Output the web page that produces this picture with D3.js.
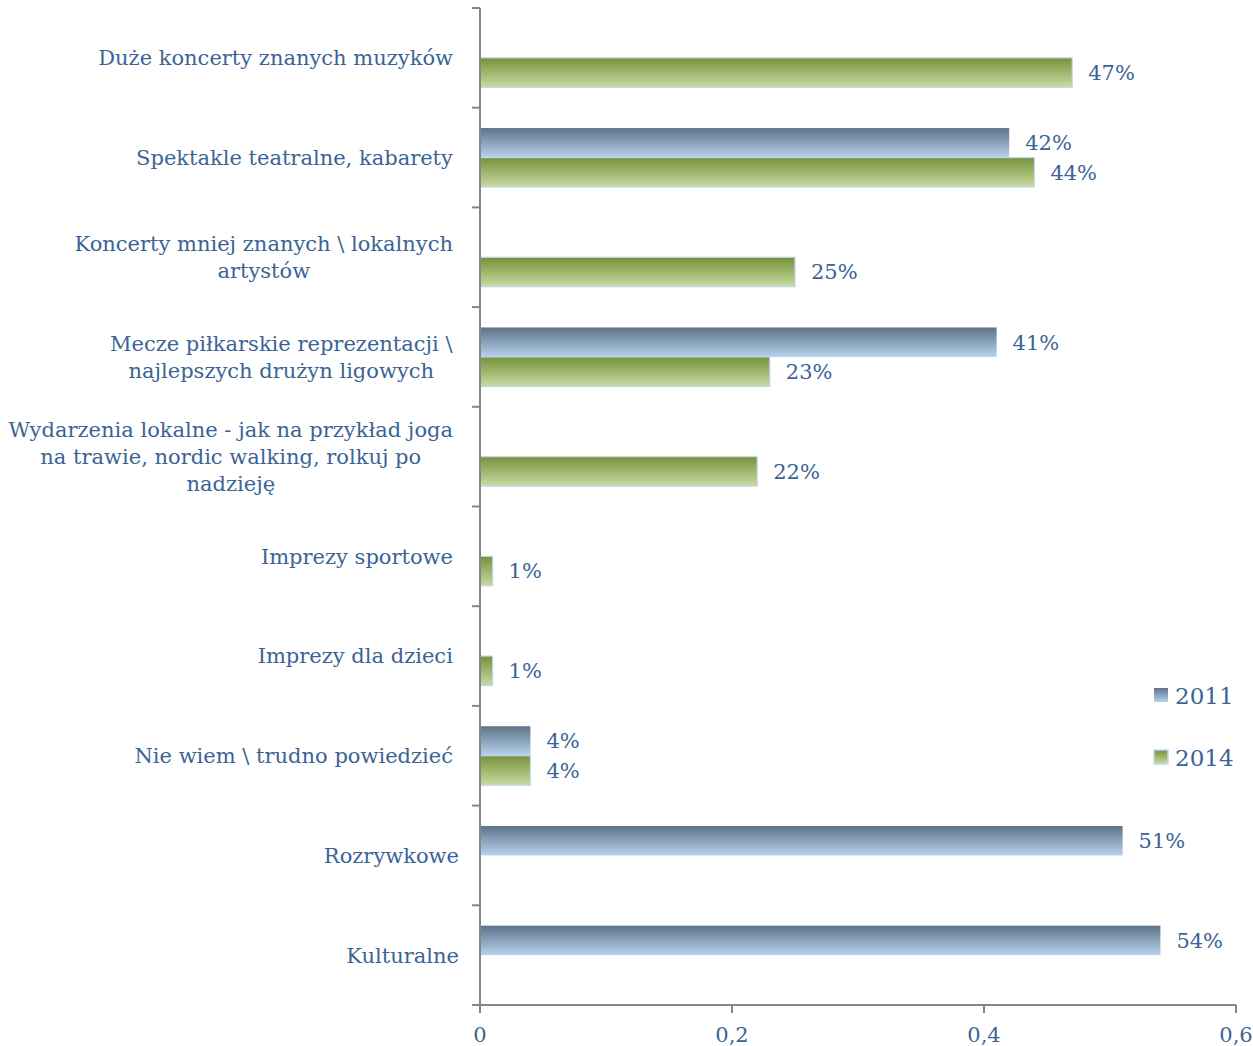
<!DOCTYPE html>
<html><head><meta charset="utf-8">
<script src="https://cdn.jsdelivr.net/npm/d3@7"></script>
<style>body{margin:0;background:#fff}svg{display:block}</style>
</head><body>
<script>
const categories = [
  ["Duże koncerty znanych muzyków"],
  ["Spektakle teatralne, kabarety"],
  ["Koncerty mniej znanych \\ lokalnych", "artystów"],
  ["Mecze piłkarskie reprezentacji \\", "najlepszych drużyn ligowych"],
  ["Wydarzenia lokalne - jak na przykład joga", "na trawie, nordic walking, rolkuj po", "nadzieję"],
  ["Imprezy sportowe"],
  ["Imprezy dla dzieci"],
  ["Nie wiem \\ trudno powiedzieć"],
  ["Rozrywkowe"],
  ["Kulturalne"]
];
const series = ["2011", "2014"];
const values2011 = [null, 0.42, null, 0.41, null, null, null, 0.04, 0.51, 0.54];
const values2014 = [0.47, 0.44, 0.25, 0.23, 0.22, 0.01, 0.01, 0.04, null, null];
const xTicks = [0, 0.2, 0.4, 0.6];

const W = 1253, H = 1046;
const margin = {left: 480, right: 17, top: 8, bottom: 41};
const textColor = "#3b6496";
const font = "'DejaVu Serif', 'Liberation Serif', serif";

const svg = d3.select("body").append("svg").attr("width", W).attr("height", H);
const defs = svg.append("defs");
function grad(id, top, bottom) {
  const g = defs.append("linearGradient").attr("id", id).attr("x1", 0).attr("y1", 0).attr("x2", 0).attr("y2", 1);
  g.append("stop").attr("offset", "0%").attr("stop-color", top);
  g.append("stop").attr("offset", "100%").attr("stop-color", bottom);
}
grad("g2011", "#5f7288", "#b6d3ef");
grad("g2014", "#76923a", "#c9dba3");

const x = d3.scaleLinear().domain([0, 0.6]).range([margin.left, W - margin.right]);
const y = d3.scaleBand().domain(d3.range(categories.length)).range([margin.top, H - margin.bottom]);
const yInner = d3.scaleBand().domain(series).range([0, y.bandwidth()]).paddingOuter(0.69).paddingInner(0);

const locale = d3.formatLocale({decimal: ",", thousands: " ", grouping: [3], currency: ["", " zł"]});
const fmt = locale.format("~g");
const pct = d3.format(".0%");

// bars
const data = [];
categories.forEach((c, i) => {
  if (values2011[i] != null) data.push({i, s: "2011", v: values2011[i]});
  if (values2014[i] != null) data.push({i, s: "2014", v: values2014[i]});
});
const g = svg.append("g");
g.selectAll("rect.bar").data(data).join("rect")
  .attr("class", "bar")
  .attr("x", x(0))
  .attr("y", d => y(d.i) + yInner(d.s))
  .attr("width", d => x(d.v) - x(0))
  .attr("height", yInner.bandwidth())
  .attr("fill", d => d.s === "2011" ? "url(#g2011)" : "url(#g2014)")
  .attr("stroke", d => d.s === "2014" ? "#c3d6ee" : "none")
  .attr("stroke-width", 1.2);

g.selectAll("text.val").data(data).join("text")
  .attr("class", "val")
  .attr("x", d => x(d.v) + 16)
  .attr("y", d => y(d.i) + yInner(d.s) + yInner.bandwidth() / 2)
  .attr("dy", "0.35em")
  .attr("fill", textColor)
  .style("font-family", font).style("font-size", "21px")
  .text(d => pct(d.v));

// y axis
const yAxis = svg.append("g").attr("transform", `translate(${x(0)},0)`);
yAxis.append("line").attr("x1", 0).attr("x2", 0).attr("y1", margin.top).attr("y2", H - margin.bottom)
  .attr("stroke", "#868686").attr("stroke-width", 2);
const yTickPos = d3.range(categories.length + 1).map(i => i < categories.length ? y(i) : y(categories.length - 1) + y.bandwidth());
yAxis.selectAll("line.t").data(yTickPos).join("line").attr("class", "t")
  .attr("x1", -8).attr("x2", 0).attr("y1", d => d).attr("y2", d => d)
  .attr("stroke", "#868686").attr("stroke-width", 2);

// category labels
const lineH = 27;
const labels = svg.append("g");
categories.forEach((lines, i) => {
  const cy = y(i) + y.bandwidth() / 2;
  const t = labels.append("text")
    .attr("text-anchor", "middle")
    .attr("fill", textColor)
    .style("font-family", font).style("font-size", "21px");
  lines.forEach((ln, k) => {
    t.append("tspan").attr("x", 0).attr("y", cy + (k - (lines.length - 1) / 2) * lineH).attr("dy", "0.35em").text(ln);
  });
  const bb = t.node().getBBox();
  const rightEdge = i >= 8 ? x(0) - 21 : x(0) - 27;
  t.attr("transform", `translate(${rightEdge - bb.width / 2},0)`);
});

// x axis
const xAxisG = svg.append("g").attr("transform", `translate(0,${H - margin.bottom})`);
xAxisG.append("line").attr("x1", x(0) - 8).attr("x2", x(0.6)).attr("stroke", "#868686").attr("stroke-width", 2);
xAxisG.selectAll("line.t").data(xTicks).join("line").attr("class", "t")
  .attr("x1", d => x(d)).attr("x2", d => x(d)).attr("y1", 0).attr("y2", 8)
  .attr("stroke", "#868686").attr("stroke-width", 2);
xAxisG.selectAll("text").data(xTicks).join("text")
  .attr("x", d => x(d)).attr("y", 37)
  .attr("text-anchor", "middle").attr("fill", textColor)
  .style("font-family", font).style("font-size", "21px")
  .text(d => fmt(d));

// legend
const legend = svg.append("g").attr("transform", "translate(1154,688)");
series.forEach((s, k) => {
  const lg = legend.append("g").attr("transform", `translate(0,${k * 62})`);
  lg.append("rect").attr("width", 14).attr("height", 14)
    .attr("fill", `url(#g${s})`)
    .attr("stroke", s === "2014" ? "#c3d6ee" : "none").attr("stroke-width", 1.5);
  lg.append("text").attr("x", 21).attr("y", 7).attr("dy", "0.38em")
    .attr("fill", textColor)
    .style("font-family", font).style("font-size", "23px")
    .text(s);
});
</script>
</body></html>
